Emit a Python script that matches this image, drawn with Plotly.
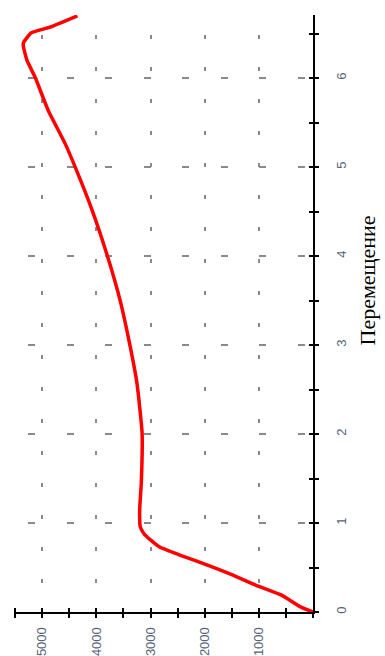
import plotly.graph_objects as go

# Displacement (Перемещение) and value along the curve
displacement = [0, 0.06, 0.19, 0.30, 0.42, 0.53, 0.64, 0.73, 0.81, 0.88, 0.96, 1.15, 1.45,
                2.01, 2.57, 3.0, 3.5, 3.99, 4.52, 5.0, 5.27, 5.64, 6.01, 6.20, 6.39, 6.51,
                6.57, 6.70]
value = [0, 240, 580, 1050, 1500, 1960, 2460, 2830, 3000, 3120, 3190, 3200, 3170,
         3155, 3250, 3380, 3560, 3790, 4080, 4390, 4580, 4890, 5130, 5280, 5350, 5200,
         4870, 4350]

value_ticks = [0, 1000, 2000, 3000, 4000, 5000]
value_tick_labels = ["", "1000", "2000", "3000", "4000", "5000"]
disp_ticks = [0, 1, 2, 3, 4, 5, 6]
disp_tick_labels = ["0", "1", "2", "3", "4", "5", "6"]
axis_title = "Перемещение"

W, H = 385, 656
ml, mr, mt, mb = 14, 72, 15, 44
xr = [5520, 0]
yr = [0, 6.71]

tick_font = dict(family="Liberation Sans", size=13, color="#56627a")

fig = go.Figure()
fig.add_trace(go.Scatter(
    x=value, y=displacement, mode="lines",
    line=dict(color="#ff0000", width=3.5, shape="spline", smoothing=0.45),
    hoverinfo="skip", showlegend=False))
# helper invisible trace for the overlay axes (inner half of the crossing ticks)
fig.add_trace(go.Scatter(
    x=[value[0]], y=[displacement[0]], xaxis="x2", yaxis="y2", mode="markers",
    marker=dict(opacity=0), hoverinfo="skip", showlegend=False))

fig.update_layout(
    width=W, height=H,
    margin=dict(l=ml, r=mr, t=mt, b=mb, autoexpand=False),
    paper_bgcolor="white", plot_bgcolor="white",
    xaxis=dict(
        range=xr, tickvals=value_ticks, ticktext=value_tick_labels,
        tickangle=-90, tickfont=tick_font, ticklabelstandoff=4, automargin=False,
        ticks="outside", ticklen=4, tickwidth=2, tickcolor="black",
        minor=dict(dtick=500, tick0=0, ticks="outside", ticklen=4, tickwidth=2,
                   tickcolor="black", showgrid=False),
        showline=True, linecolor="black", linewidth=2,
        showgrid=True, gridcolor="#8a8a8a", gridwidth=1.5,
        griddash="0px,20px,4px,8px",
        zeroline=False, fixedrange=True,
    ),
    yaxis=dict(
        range=yr, tickvals=disp_ticks, ticktext=disp_tick_labels,
        side="right", tickangle=-90, tickfont=tick_font, automargin=False,
        ticks="outside", ticklen=4, tickwidth=2, tickcolor="black",
        ticklabelstandoff=11,
        minor=dict(dtick=0.5, tick0=0, ticks="outside", ticklen=4, tickwidth=2,
                   tickcolor="black", showgrid=False),
        showline=True, linecolor="black", linewidth=2,
        showgrid=True, gridcolor="#8a8a8a", gridwidth=1.5,
        griddash="0px,14px,7px,17.5px",
        zeroline=False, fixedrange=True,
    ),
    xaxis2=dict(
        overlaying="x", matches="x", anchor="y2", side="bottom", automargin=False,
        range=xr, tickvals=value_ticks, showticklabels=False,
        ticks="inside", ticklen=4, tickwidth=2, tickcolor="black",
        minor=dict(dtick=500, tick0=0, ticks="inside", ticklen=4, tickwidth=2,
                   tickcolor="black", showgrid=False),
        showline=False, showgrid=False, zeroline=False, fixedrange=True,
    ),
    yaxis2=dict(
        overlaying="y", matches="y", anchor="x2", side="right", automargin=False,
        range=yr, tickvals=disp_ticks, showticklabels=False,
        ticks="inside", ticklen=4, tickwidth=2, tickcolor="black",
        minor=dict(dtick=0.5, tick0=0, ticks="inside", ticklen=4, tickwidth=2,
                   tickcolor="black", showgrid=False),
        showline=False, showgrid=False, zeroline=False, fixedrange=True,
    ),
    annotations=[dict(
        text=axis_title, textangle=-90, showarrow=False,
        xref="paper", yref="paper",
        x=(367 - ml) / (W - ml - mr), y=(H - mb - 280.5) / (H - mt - mb),
        xanchor="center", yanchor="middle",
        font=dict(family="Liberation Serif", size=22, color="black"),
    )],
)

fig.write_html("out.html")
